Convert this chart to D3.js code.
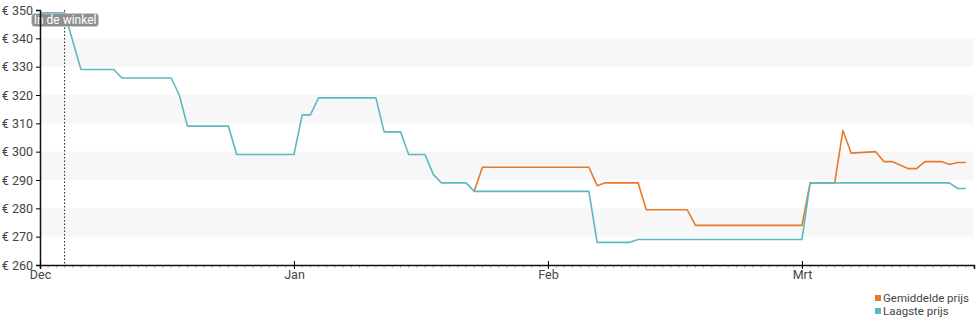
<!DOCTYPE html>
<html>
<head>
<meta charset="utf-8">
<script src="https://cdn.jsdelivr.net/npm/d3@7"></script>
<style>
  body { margin: 0; background: #fff; }
  svg { display: block; font-family: Roboto, "Open Sans", sans-serif; }
</style>
</head>
<body>
<svg id="chart" width="980" height="325"></svg>
<script>
// day index counted from 1 Dec, months drawn 31 days wide
const monthLabels = ['Dec', 'Jan', 'Feb', 'Mrt']
const monthDays = [0, 31, 62, 93]
const yTicks = [260, 270, 280, 290, 300, 310, 320, 330, 340, 350]
const storeDay = 3
const storeLabel = 'In de winkel'

const lowestDays = [0, 3, 5, 9, 10, 16, 17, 18, 23, 24, 31, 32, 33, 34, 41, 42, 44, 45, 47, 48, 49, 52, 53, 67, 68, 72, 73, 93, 94, 111, 112, 113]
const lowestPrice = [349, 349, 329, 329, 326, 326, 320, 309, 309, 299, 299, 313, 313, 319, 319, 307, 307, 299, 299, 292, 289, 289, 286, 286, 268, 268, 269, 269, 289, 289, 287, 287]

const avgDays = [53, 54, 67, 68, 69, 73, 74, 79, 80, 93, 94, 97, 98, 99, 102, 103, 104, 106, 107, 108, 110, 111, 112, 113]
const avgPrice = [286, 294.5, 294.5, 288, 289, 289, 279.5, 279.5, 274, 274, 289, 289, 307.5, 299.5, 300, 296.5, 296.5, 294, 294, 296.5, 296.5, 295.5, 296.2, 296.2]

const series = [
  { name: 'Gemiddelde prijs', color: '#e8792b', days: avgDays, values: avgPrice },
  { name: 'Laagste prijs', color: '#5cb9c0', days: lowestDays, values: lowestPrice }
]

const margin = { left: 40, top: 10, right: 6 }
const width = 980
const plotBottom = 265

const svg = d3.select('#chart')

const x = d3.scaleLinear()
  .domain([0, 114])
  .range([margin.left, width - margin.right])
const y = d3.scaleLinear()
  .domain([260, 350])
  .range([plotBottom, margin.top])

// alternating bands
const bands = yTicks.filter((d, i) => i % 2 === 1 && d < 350)
svg.append('g')
  .selectAll('rect')
  .data(bands)
  .join('rect')
  .attr('x', x(0))
  .attr('width', x(114) - x(0))
  .attr('y', d => y(d + 10))
  .attr('height', d => y(d) - y(d + 10))
  .attr('fill', '#f7f7f7')

// daily minor ticks
svg.append('g')
  .selectAll('line')
  .data(d3.range(0, 115))
  .join('line')
  .attr('x1', d => x(d))
  .attr('x2', d => x(d))
  .attr('y1', plotBottom)
  .attr('y2', plotBottom + 3)
  .attr('stroke', '#bbb')
  .attr('stroke-width', 1)

// lines
const line = d3.line()
  .x(d => x(d[0]))
  .y(d => y(d[1]))

series.forEach(s => {
  svg.append('path')
    .datum(s.days.map((d, i) => [d, s.values[i]]))
    .attr('d', line)
    .attr('fill', 'none')
    .attr('stroke', s.color)
    .attr('stroke-width', 1.6)
    .attr('stroke-linejoin', 'round')
})

// in-store marker
svg.append('line')
  .attr('x1', x(storeDay))
  .attr('x2', x(storeDay))
  .attr('y1', y(350))
  .attr('y2', plotBottom)
  .attr('stroke', '#222')
  .attr('stroke-width', 1)
  .attr('stroke-dasharray', '1.5,2')

const labelG = svg.append('g')
  .attr('transform', `translate(${x(storeDay) + 0.5}, 20)`)
const labelText = labelG.append('text')
  .attr('text-anchor', 'middle')
  .attr('dy', '0.35em')
  .attr('font-size', 12)
  .attr('fill', '#fff')
  .text(storeLabel)
const bb = labelText.node().getBBox()
labelG.insert('rect', 'text')
  .attr('x', bb.x - 2)
  .attr('y', -6.5)
  .attr('width', bb.width + 4)
  .attr('height', 13)
  .attr('rx', 3)
  .attr('fill', '#8f8f8f')
  .attr('stroke', '#ccc')
  .attr('stroke-width', 0.5)

// axes
const yAxis = d3.axisLeft(y)
  .tickValues(yTicks)
  .tickSize(4)
  .tickFormat(d => '€ ' + d)
svg.append('g')
  .attr('transform', `translate(${margin.left}, 0)`)
  .call(yAxis)
  .call(g => g.select('.domain').attr('stroke', '#111').attr('stroke-width', 1.5))
  .call(g => g.selectAll('text').attr('font-size', 12.5).attr('fill', '#444').attr('font-family', 'Roboto, sans-serif'))

const xAxis = d3.axisBottom(x)
  .tickValues(monthDays)
  .tickSize(4)
  .tickFormat((d, i) => monthLabels[i])
svg.append('g')
  .attr('transform', `translate(0, ${plotBottom})`)
  .call(xAxis)
  .call(g => g.select('.domain').attr('stroke', '#111').attr('stroke-width', 1.5))
  .call(g => g.selectAll('.tick line').attr('y1', -4))
  .call(g => g.selectAll('text').attr('font-size', 12.5).attr('fill', '#444').attr('y', 5).attr('dy', '0.71em').attr('font-family', 'Roboto, sans-serif'))

// legend
const legend = svg.append('g')
  .attr('transform', 'translate(875, 298)')
series.forEach((s, i) => {
  const row = legend.append('g').attr('transform', `translate(0, ${i * 13})`)
  row.append('rect')
    .attr('x', 0)
    .attr('y', -3)
    .attr('width', 6)
    .attr('height', 6)
    .attr('fill', s.color)
  row.append('text')
    .attr('x', 8)
    .attr('dy', '0.35em')
    .attr('font-size', 11.5)
    .attr('fill', '#444')
    .text(s.name)
})
</script>
</body>
</html>
